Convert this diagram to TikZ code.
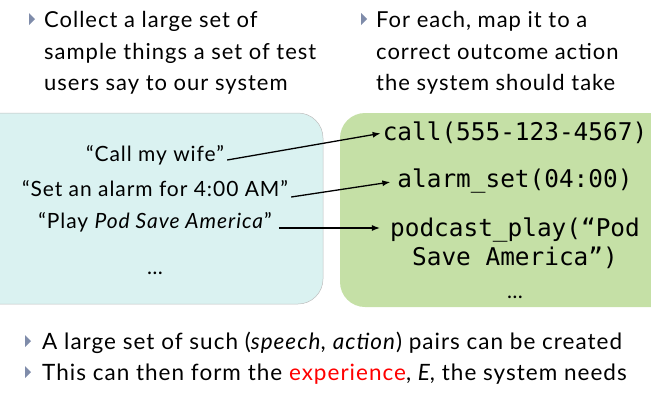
\documentclass[tikz,border=0pt]{standalone}
\usepackage{fontspec}
\setmainfont[LetterSpace=4.5]{Lato}
\setmonofont{DejaVu Sans Mono}
\usetikzlibrary{arrows.meta}
\definecolor{boxcyan}{HTML}{DAF2F1}
\definecolor{boxgreen}{HTML}{C5E0A6}
\definecolor{bulletc}{HTML}{7F8CAA}
\definecolor{expred}{HTML}{FF0000}
\begin{document}
\begin{tikzpicture}[x=1pt,y=-1pt,
  bul/.pic={\fill[bulletc] (0,-6) -- (6,0) -- (0,6) -- cycle;},
  btext/.style={anchor=base west,inner sep=0pt,font=\fontsize{22}{26}\selectfont},
  ltext/.style={anchor=base west,inner sep=0pt,font=\fontsize{22.5}{27}\selectfont},
  say/.style={inner sep=0pt,font=\fontsize{21}{25}\selectfont},
  act/.style={inner sep=0pt,font=\ttfamily\fontsize{24.4}{29}\selectfont},
  link/.style={-{Latex[length=8pt,width=6pt]},line width=1.3pt}]
\useasboundingbox (0,0) rectangle (651,394);
\fill[boxcyan, draw=black!25, line width=0.5pt, rounded corners=25pt] (-40,113) rectangle (323,304);
\fill[boxgreen, rounded corners=25pt] (340,113) rectangle (700,307);
% top bullets
\pic at (29,19) {bul};
\node[btext] (t1) at (44,27) {Collect a large set of};
\node[btext] (t2) at (44,59) {sample things a set of test};
\node[btext] (t3) at (44,90) {users say to our system};
\pic at (361,19) {bul};
\node[btext] (u1) at (376,27) {For each, map it to a};
\node[btext] (u2) at (376,59) {correct outcome action};
\node[btext] (u3) at (376,90) {the system should take};
% speech
\node[say] (s1) at (155,155) {“Call my wife”};
\node[say] (s2) at (155,189) {“Set an alarm for 4:00 AM”};
\node[say] (s3) at (155,222) {“Play \textit{Pod Save America}”};
\node[say,anchor=base] (s4) at (155,274) {…};
% actions
\node[act] (a1) at (515,133) {call(555-123-4567)};
\node[act] (a2) at (515,181) {alarm\_set(04:00)};
\node[act,align=center] (a3) at (515,243) {podcast\_play(“Pod\\Save America”)};
\node[say,anchor=base] (a4) at (515,298) {…};
% links
\coordinate (s1o) at ([xshift=3pt,yshift=-5pt]s1.east);
\coordinate (s2o) at ([xshift=3pt,yshift=-8pt]s2.east);
\coordinate (s3o) at ([xshift=7pt,yshift=-6pt]s3.east);
\draw[link,shorten >=2pt] (s1o) -- (a1.west);
\draw[link,shorten >=7pt] (s2o) -- (a2.west);
\draw[link,shorten >=10pt] (s3o) -- (a3.west |- s3o);
% bottom bullets
\pic at (25,341) {bul};
\node[ltext] (b1) at (42,349) {A large set of such (\textit{speech, action}) pairs can be created};
\pic at (25,372) {bul};
\node[ltext] (b2) at (42,380) {This can then form the \textcolor{expred}{experience}, \textit{E}, the system needs};
\end{tikzpicture}
\end{document}
